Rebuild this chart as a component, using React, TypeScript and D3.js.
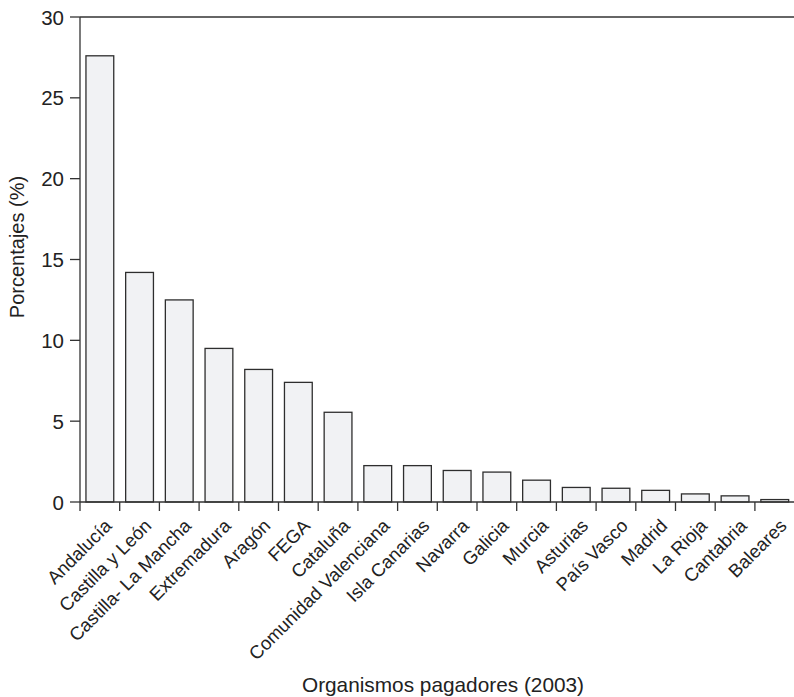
import React from "react";
import * as d3 from "d3";

const categories: string[] = [
  "Andalucía",
  "Castilla y León",
  "Castilla- La Mancha",
  "Extremadura",
  "Aragón",
  "FEGA",
  "Cataluña",
  "Comunidad Valenciana",
  "Isla Canarias",
  "Navarra",
  "Galicia",
  "Murcia",
  "Asturias",
  "País Vasco",
  "Madrid",
  "La Rioja",
  "Cantabria",
  "Baleares",
];

const values: number[] = [
  27.6, 14.2, 12.5, 9.5, 8.2, 7.4, 5.55, 2.25, 2.25, 1.95, 1.85, 1.35, 0.9,
  0.85, 0.72, 0.5, 0.38, 0.15,
];

const yTicks: number[] = [0, 5, 10, 15, 20, 25, 30];

const W = 794;
const H = 697;
const FONT = "'Liberation Sans', Arial, Helvetica, sans-serif";

export default function App() {
  const left = 80;
  const right = 80 + 39.7 * categories.length;
  const top = 17;
  const bottom = 502;

  const x = d3
    .scaleBand<string>()
    .domain(categories)
    .range([left, right])
    .paddingInner(0.3)
    .paddingOuter(0.15);
  const step = x.step();
  const y = d3.scaleLinear().domain([0, 30]).range([bottom, top]);

  const axisColor = "#333";

  return (
    <svg
      width={W}
      height={H}
      style={{ position: "absolute", left: 0, top: 0, background: "#fff" }}
      fontFamily={FONT}
    >
      {/* bars */}
      {categories.map((c, i) => (
        <rect
          key={c}
          x={x(c)}
          y={y(values[i])}
          width={x.bandwidth()}
          height={bottom - y(values[i])}
          fill="#f1f2f4"
          stroke="#2e2e2e"
          strokeWidth={1.3}
        />
      ))}

      {/* y axis */}
      <line x1={left} x2={left} y1={top} y2={bottom} stroke={axisColor} strokeWidth={1.3} />
      {/* top frame line */}
      <line x1={left} x2={W} y1={top} y2={top} stroke={axisColor} strokeWidth={1.3} />
      {/* x axis */}
      <line x1={left} x2={W} y1={bottom} y2={bottom} stroke={axisColor} strokeWidth={1.3} />

      {yTicks.map((t) => (
        <g key={t}>
          <line x1={left - 10} x2={left} y1={y(t)} y2={y(t)} stroke={axisColor} strokeWidth={1.3} />
          <text
            x={left - 16}
            y={y(t)}
            textAnchor="end"
            dominantBaseline="central"
            fontSize={20.5}
            fill="#222"
          >
            {t}
          </text>
        </g>
      ))}

      {/* x ticks at band boundaries */}
      {categories.map((c, i) => {
        const bx = left + i * step;
        return (
          <line
            key={"t" + c}
            x1={bx}
            x2={bx}
            y1={bottom}
            y2={bottom + 9}
            stroke={axisColor}
            strokeWidth={1.3}
          />
        );
      })}

      {/* category labels */}
      {categories.map((c) => {
        const cx = (x(c) as number) + x.bandwidth() / 2;
        return (
          <text
            key={"l" + c}
            transform={`translate(${cx + 13},${bottom + 25}) rotate(-45)`}
            textAnchor="end"
            fontSize={18.5}
            fill="#222"
          >
            {c}
          </text>
        );
      })}

      {/* axis titles */}
      <text
        transform={`translate(24,247) rotate(-90)`}
        textAnchor="middle"
        fontSize={20}
        fill="#222"
      >
        Porcentajes (%)
      </text>
      <text x={443} y={692} textAnchor="middle" fontSize={20.8} fill="#222">
        Organismos pagadores (2003)
      </text>
    </svg>
  );
}
